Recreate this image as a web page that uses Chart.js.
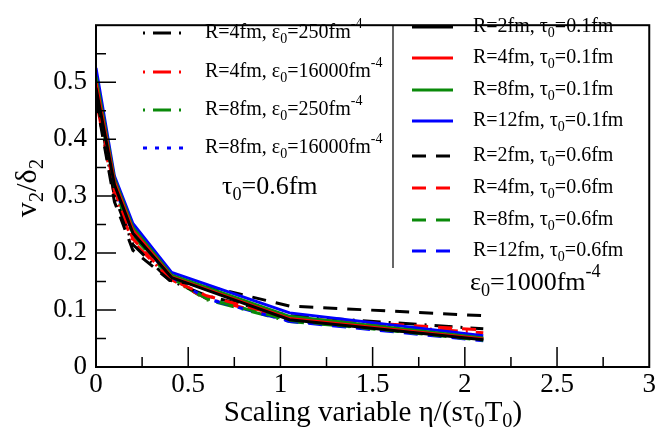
<!DOCTYPE html>
<html>
<head>
  <meta charset="UTF-8">
  <title>v2/delta2 scaling</title>
  <script src="https://cdn.jsdelivr.net/npm/chart.js"></script>
  <style>
    body { margin: 0; background: #fff; }
    #wrap { width: 658px; height: 438px; }
  </style>
</head>
<body>
  <div id="wrap">
    <canvas id="c" width="658" height="438"></canvas>
  </div>

  <script>
    // x values of the curves
    const xTau01 = [0, 0.1, 0.2, 0.41, 1.05, 2.1];
    const xTau06 = [0, 0.1, 0.2, 0.4, 0.6, 1.05, 2.1];

    // tau0 = 0.1 fm, eps0 = 1000 (solid)
    const r2Tau01  = [0.49, 0.32, 0.235, 0.157, 0.083, 0.048];
    const r4Tau01  = [0.50, 0.325, 0.24, 0.158, 0.085, 0.049];
    const r8Tau01  = [0.51, 0.33, 0.245, 0.161, 0.089, 0.051];
    const r12Tau01 = [0.525, 0.335, 0.252, 0.166, 0.095, 0.055];

    // tau0 = 0.6 fm, eps0 = 1000 (dashed)
    const r2Tau06  = [0.47, 0.29, 0.205, 0.152, 0.142, 0.107, 0.09];
    const r4Tau06  = [0.48, 0.31, 0.225, 0.155, 0.125, 0.086, 0.065];
    const r8Tau06  = [0.49, 0.32, 0.235, 0.158, 0.12, 0.082, 0.047];
    const r12Tau06 = [0.50, 0.325, 0.24, 0.16, 0.12, 0.08, 0.046];

    // tau0 = 0.6 fm, other eps0
    const r4E250   = [0.48, 0.30, 0.215, 0.152, 0.125, 0.09, 0.067];
    const r4E16000 = [0.47, 0.30, 0.22, 0.155, 0.12, 0.084, 0.06];
    const r8E250   = [0.49, 0.31, 0.23, 0.158, 0.118, 0.08, 0.05];
    const r8E16000 = [0.50, 0.315, 0.235, 0.16, 0.12, 0.081, 0.05];

    const xTicks = [0, 0.5, 1, 1.5, 2, 2.5, 3];
    const yTicks = [0, 0.1, 0.2, 0.3, 0.4, 0.5];

    const leftLabels = [
      "R=4fm, ε_{0}=250fm^{-4}",
      "R=4fm, ε_{0}=16000fm^{-4}",
      "R=8fm, ε_{0}=250fm^{-4}",
      "R=8fm, ε_{0}=16000fm^{-4}"
    ];
    const rightLabels = [
      "R=2fm, τ_{0}=0.1fm",
      "R=4fm, τ_{0}=0.1fm",
      "R=8fm, τ_{0}=0.1fm",
      "R=12fm, τ_{0}=0.1fm",
      "R=2fm, τ_{0}=0.6fm",
      "R=4fm, τ_{0}=0.6fm",
      "R=8fm, τ_{0}=0.6fm",
      "R=12fm, τ_{0}=0.6fm"
    ];

    const GREEN = "#0a8a0a";
    const DASH = [14, 10];
    const DASHDOT = [2, 8, 18, 8];
    const DOT = [4, 8];
    const FONT = "'Liberation Serif', 'DejaVu Serif', serif";

    function pts(xs, ys) {
      return ys.map((y, i) => ({ x: xs[i], y }));
    }

    function ds(xs, ys, color, dash, order) {
      return {
        data: pts(xs, ys),
        borderColor: color,
        borderWidth: 3,
        borderDash: dash,
        pointRadius: 0,
        tension: 0,
        fill: false,
        order
      };
    }

    // higher order is drawn underneath
    const leftSeries = [
      ds(xTau06, r4E250, "#000", DASHDOT, 20),
      ds(xTau06, r4E16000, "#ff0000", DASHDOT, 21),
      ds(xTau06, r8E250, GREEN, DASHDOT, 22),
      ds(xTau06, r8E16000, "#0000ff", DOT, 23)
    ];
    const rightSeries = [
      ds(xTau01, r2Tau01, "#000", [], 1),
      ds(xTau01, r4Tau01, "#ff0000", [], 2),
      ds(xTau01, r8Tau01, GREEN, [], 3),
      ds(xTau01, r12Tau01, "#0000ff", [], 4),
      ds(xTau06, r2Tau06, "#000", DASH, 10),
      ds(xTau06, r4Tau06, "#ff0000", DASH, 11),
      ds(xTau06, r8Tau06, GREEN, DASH, 12),
      ds(xTau06, r12Tau06, "#0000ff", DASH, 13)
    ];

    // text with _{sub} and ^{sup}
    function drawRich(ctx, str, x, y, size, align) {
      const parts = str.split(/(_\{[^}]*\}|\^\{[^}]*\})/).filter(s => s.length);
      const items = parts.map(p => {
        if (p.startsWith("_{")) return { t: p.slice(2, -1), s: size * 0.7, dy: size * 0.3 };
        if (p.startsWith("^{")) return { t: p.slice(2, -1), s: size * 0.7, dy: -size * 0.42 };
        return { t: p, s: size, dy: 0 };
      });
      let w = 0;
      items.forEach(it => { ctx.font = it.s + "px " + FONT; it.w = ctx.measureText(it.t).width; w += it.w; });
      let cx = align === "center" ? x - w / 2 : x;
      ctx.textBaseline = "middle";
      ctx.textAlign = "left";
      items.forEach(it => {
        ctx.font = it.s + "px " + FONT;
        ctx.fillText(it.t, cx, y + it.dy);
        cx += it.w;
      });
    }

    function sample(ctx, x0, x1, y, color, dash) {
      ctx.save();
      ctx.strokeStyle = color;
      ctx.lineWidth = 3;
      ctx.setLineDash(dash);
      ctx.beginPath();
      ctx.moveTo(x0, y);
      ctx.lineTo(x1, y);
      ctx.stroke();
      ctx.restore();
    }

    const decor = {
      id: "decor",
      afterDraw(chart) {
        const ctx = chart.ctx;
        const a = chart.chartArea;
        const xs = chart.scales.x, ys = chart.scales.y;
        ctx.save();
        ctx.strokeStyle = "#000";
        ctx.fillStyle = "#000";

        // frame
        ctx.lineWidth = 2;
        ctx.strokeRect(a.left, a.top, a.right - a.left, a.bottom - a.top);

        // inward ticks
        ctx.lineWidth = 1.5;
        ctx.beginPath();
        for (let i = 1; i < 12; i++) {
          const px = xs.getPixelForValue(i * 0.25);
          const len = i % 2 === 0 ? 20 : 10;
          ctx.moveTo(px, a.bottom);
          ctx.lineTo(px, a.bottom - len);
        }
        for (let i = 1; i < 12; i++) {
          const py = ys.getPixelForValue(i * 0.05);
          const len = i % 2 === 0 ? 20 : 10;
          ctx.moveTo(a.left, py);
          ctx.lineTo(a.left + len, py);
        }
        ctx.stroke();

        // separator
        ctx.lineWidth = 1.2;
        ctx.beginPath();
        ctx.moveTo(393, a.top);
        ctx.lineTo(393, 268);
        ctx.stroke();

        // left legend
        const lRows = [33, 72, 110, 148];
        leftSeries.forEach((s, i) => {
          sample(ctx, 143, 183, lRows[i], s.borderColor, s.borderDash);
          drawRich(ctx, leftLabels[i], 205, lRows[i], 20);
        });
        drawRich(ctx, "τ_{0}=0.6fm", 222, 187, 26);

        // right legend
        const rRows = [27, 58, 90, 121, 156, 188, 220, 251];
        rightSeries.forEach((s, i) => {
          sample(ctx, 412, 453, rRows[i], s.borderColor, s.borderDash);
          drawRich(ctx, rightLabels[i], 473, rRows[i], 20);
        });
        drawRich(ctx, "ε_{0}=1000fm^{-4}", 470, 283, 26);

        // axis titles
        drawRich(ctx, "Scaling variable η/(sτ_{0}T_{0})", 373, 413, 29, "center");
        ctx.save();
        ctx.translate(28, 188);
        ctx.rotate(-Math.PI / 2);
        drawRich(ctx, "v_{2}/δ_{2}", 0, 0, 30, "center");
        ctx.restore();

        ctx.restore();
      }
    };

    new Chart(document.getElementById("c").getContext("2d"), {
      type: "line",
      data: { datasets: [...rightSeries, ...leftSeries] },
      options: {
        responsive: false,
        animation: false,
        layout: { padding: { top: 7, right: 8, left: 0, bottom: 0 } },
        plugins: { legend: { display: false }, tooltip: { enabled: false } },
        scales: {
          x: {
            type: "linear",
            min: 0, max: 3,
            afterBuildTicks: s => { s.ticks = xTicks.map(v => ({ value: v })); },
            ticks: {
              callback: v => String(v),
              font: { family: FONT, size: 27 },
              color: "#000",
              padding: 2,
              maxRotation: 0
            },
            grid: { display: false, drawTicks: false },
            border: { display: false },
            afterFit: s => { s.height = 71; }
          },
          y: {
            min: 0, max: 0.6,
            afterBuildTicks: s => { s.ticks = yTicks.map(v => ({ value: v })); },
            ticks: {
              callback: v => String(v),
              font: { family: FONT, size: 27 },
              color: "#000",
              padding: 9
            },
            grid: { display: false, drawTicks: false },
            border: { display: false },
            afterFit: s => { s.width = 96; }
          }
        }
      },
      plugins: [decor]
    });
  </script>
</body>
</html>
